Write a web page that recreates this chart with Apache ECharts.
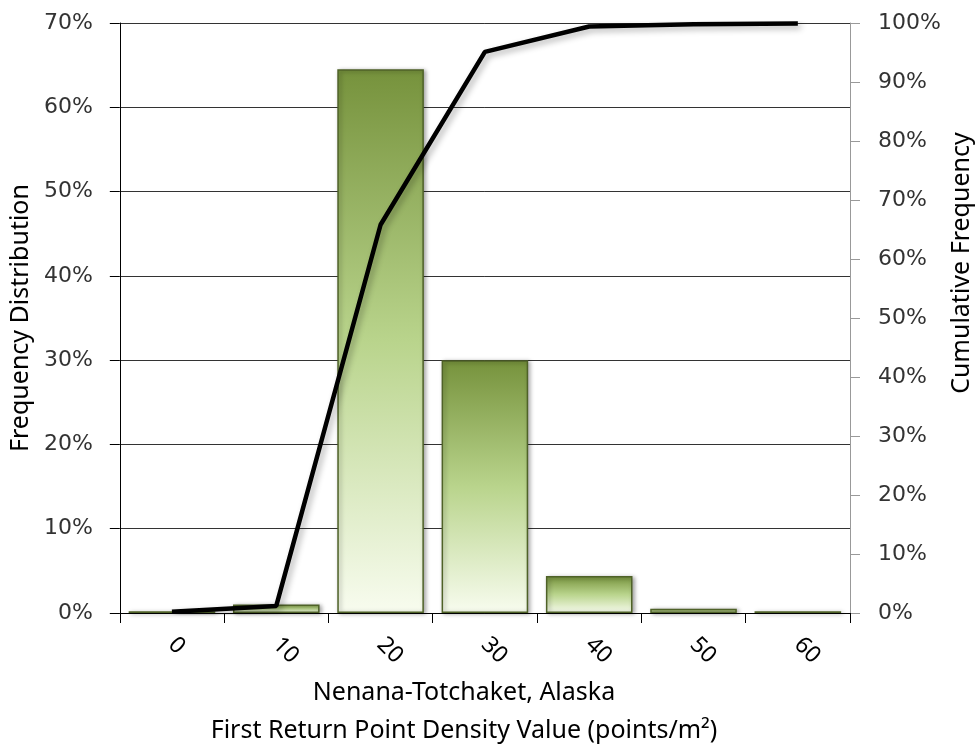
<!DOCTYPE html>
<html>
<head>
<meta charset="utf-8">
<script src="https://cdn.jsdelivr.net/npm/echarts@6/dist/echarts.min.js"></script>
<style>html,body{margin:0;padding:0;background:#fff;}#c{width:979px;height:751px;}</style>
</head>
<body>
<div id="c"></div>
<script>
const categories = ['0','10','20','30','40','50','60'];
const frequency = [0.002, 0.010, 0.645, 0.300, 0.044, 0.005, 0.002];
const cumulative = [0.002, 0.012, 0.658, 0.951, 0.994, 0.998, 0.999];
const leftTicks = {min: 0, max: 0.7, interval: 0.1};
const rightTicks = {min: 0, max: 1.0, interval: 0.1};

const chart = echarts.init(document.getElementById('c'));
const pct = v => Math.round(v * 100) + '%';
chart.setOption({
  animation: false,
  backgroundColor: '#fff',
  grid: {left: 118, right: 129, top: 23, bottom: 138},
  xAxis: {
    type: 'category',
    data: categories,
    boundaryGap: true,
    axisLine: {lineStyle: {color: '#000', width: 1}},
    axisTick: {show: true, length: 10, lineStyle: {color: '#000'}, alignWithLabel: false},
    axisLabel: {rotate: -45, margin: 28, fontFamily: 'Noto Sans', fontSize: 23, color: '#000'}
  },
  yAxis: [
    {
      type: 'value', min: leftTicks.min, max: leftTicks.max, interval: leftTicks.interval,
      position: 'left',
      name: 'Frequency Distribution', nameLocation: 'middle', nameGap: 86, nameRotate: 90,
      nameTextStyle: {fontFamily: 'Noto Sans', fontSize: 25, color: '#000'},
      axisLine: {show: true, lineStyle: {color: '#000', width: 1}},
      axisTick: {show: true, length: 10, lineStyle: {color: '#000'}},
      axisLabel: {formatter: pct, margin: 27, fontFamily: 'DejaVu Sans', fontSize: 22, color: '#333'},
      splitLine: {show: true, lineStyle: {color: '#333', width: 1}}
    },
    {
      type: 'value', min: rightTicks.min, max: rightTicks.max, interval: rightTicks.interval,
      position: 'right',
      axisLine: {show: true, lineStyle: {color: '#999', width: 1}},
      axisTick: {show: true, length: 10, lineStyle: {color: '#999'}},
      axisLabel: {formatter: pct, margin: 28, fontFamily: 'DejaVu Sans', fontSize: 22, color: '#333'},
      splitLine: {show: false}
    }
  ],
  graphic: [
    {type: 'text', x: 962, y: 263, rotation: Math.PI / 2,
     style: {text: 'Cumulative Frequency', fontFamily: 'Noto Sans', fontSize: 25, fill: '#000', align: 'center', verticalAlign: 'middle'}},
    {type: 'text', x: 464, y: 693,
     style: {text: 'Nenana-Totchaket, Alaska', fontFamily: 'Noto Sans', fontSize: 25, fill: '#000', align: 'center', verticalAlign: 'middle'}},
    {type: 'text', x: 464, y: 731,
     style: {text: 'First Return Point Density Value (points/m²)', fontFamily: 'Noto Sans', fontSize: 25, fill: '#000', align: 'center', verticalAlign: 'middle'}}
  ],
  series: [
    {
      type: 'bar', yAxisIndex: 0, data: frequency, barCategoryGap: '17%',
      itemStyle: {
        color: new echarts.graphic.LinearGradient(0, 0, 0, 1, [
          {offset: 0, color: '#76923c'},
          {offset: 0.5, color: '#b9d48c'},
          {offset: 1, color: '#f8fcef'}
        ]),
        borderColor: '#4f6228', borderWidth: 1.5,
        shadowColor: 'rgba(0,0,0,0.35)', shadowBlur: 4, shadowOffsetX: 2, shadowOffsetY: 1
      }
    },
    {
      type: 'line', yAxisIndex: 1, data: cumulative, symbol: 'none',
      lineStyle: {color: '#000', width: 4.5, shadowColor: 'rgba(0,0,0,0.3)', shadowBlur: 6, shadowOffsetX: 3, shadowOffsetY: 3},
      z: 5
    }
  ]
});
</script>
</body>
</html>
